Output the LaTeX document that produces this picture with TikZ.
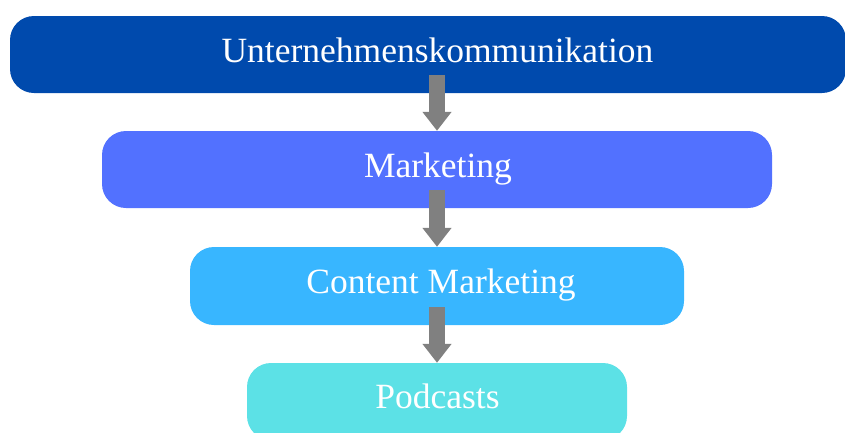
\documentclass[tikz,border=0pt]{standalone}
\usepackage{fontspec}
\setmainfont{Liberation Serif}
\usetikzlibrary{arrows.meta,calc}
\definecolor{navy}{HTML}{004AAD}
\definecolor{royal}{HTML}{5271FF}
\definecolor{sky}{HTML}{38B6FF}
\definecolor{aqua}{HTML}{5CE1E6}
\definecolor{flowgray}{HTML}{808080}
\begin{document}
\begin{tikzpicture}[x=1pt,y=-1pt,
  level/.style={fill=#1, rounded corners=24pt, inner sep=0pt, minimum height=77pt},
  caption/.style={text=white, font=\fontsize{35.5}{40}\selectfont, anchor=base, inner sep=0pt},
  flowarrow/.style={draw=flowgray, line width=16pt, -{Triangle[width=28pt,length=19pt]}}]
\useasboundingbox (0,0) rectangle (845,432);

% stacked levels, from the broad field down to the specific medium
\node[level=navy,  minimum width=836pt] (corp) at (428,54.5) {};
\node[level=royal, minimum width=670pt] (mkt)  at (437,169.5) {};
\node[level=sky,   minimum width=494pt, minimum height=78pt] (cm) at (437,286) {};
\node[level=aqua,  minimum width=380pt] (pod)  at (437,401.5) {};

% captions
\node[caption] (corpt) at (437.5,62)  {Unternehmenskommunikation};
\node[caption] (mktt)  at (438,177) {Marketing};
\node[caption] (cmt)   at (441,293.5) {Content Marketing};
\node[caption] (podt)  at (437.5,408) {Podcasts};

% block arrows between the levels
\draw[flowarrow] ($(mkt.north |- corp.south)+(0,-18)$) -- (mkt.north);
\draw[flowarrow] ($(cm.north |- mkt.south)+(0,-18)$) -- (cm.north);
\draw[flowarrow] ($(pod.north |- cm.south)+(0,-18)$) -- (pod.north);
\end{tikzpicture}
\end{document}
